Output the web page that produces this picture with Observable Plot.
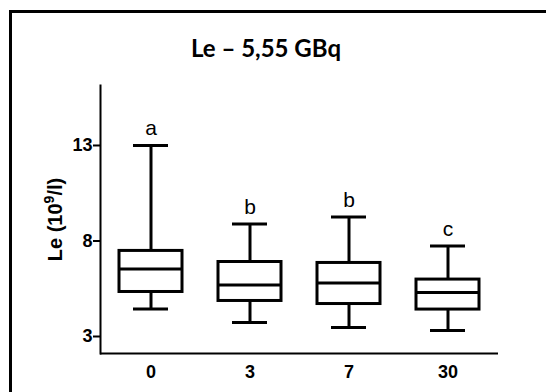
<!DOCTYPE html>
<html>
<head>
<meta charset="utf-8">
<script src="https://cdn.jsdelivr.net/npm/d3@7"></script>
<script src="https://cdn.jsdelivr.net/npm/@observablehq/plot@0.6"></script>
<style>
  html, body { margin: 0; padding: 0; background: #fff; width: 546px; height: 392px; overflow: hidden; position: relative; }
  #border { position: absolute; left: 9px; top: 10px; width: 800px; height: 800px; border-left: 3px solid #000; border-top: 3px solid #000; pointer-events: none; }
  #title { height: 70px; box-sizing: border-box; padding-top: 36px; line-height: 24px; width: 532px; text-align: center; font-family: Lato, "Open Sans", sans-serif; font-weight: bold; font-size: 24px; color: #000; }
  #chart svg { display: block; }
  #chart g[aria-label="y-axis tick label"], #chart g[aria-label="x-axis tick label"] { font-size: 18px !important; font-weight: bold !important; fill: #000 !important; }
</style>
</head>
<body>
<div id="border"></div>
<div id="title">Le – 5,55 GBq</div>
<div id="chart"></div>
<script>
const categories = ["0", "3", "7", "30"];
const lowerWhisker = [4.44, 3.73, 3.47, 3.31];
const q1 = [5.33, 4.86, 4.70, 4.41];
const median = [6.53, 5.70, 5.80, 5.30];
const q3 = [7.48, 6.90, 6.85, 5.98];
const upperWhisker = [13.0, 8.89, 9.26, 7.74];
const letters = ["a", "b", "b", "c"];
const yTicks = [3, 8, 13];
const yLabelParts = ["Le (10", "9", "/l)"];

const data = categories.map((c, i) => ({
  cat: c, lo: lowerWhisker[i], q1: q1[i], med: median[i], q3: q3[i], hi: upperWhisker[i], letter: letters[i]
}));

const font = "'Liberation Sans', Arial, sans-serif";
const chart = Plot.plot({
  width: 546,
  height: 322,
  marginLeft: 100,
  marginRight: 48,
  marginTop: 15,
  marginBottom: 39,
  style: { fontFamily: font, fontSize: "18px", fontWeight: "bold", color: "#000", background: "transparent" },
  x: { domain: categories, paddingInner: 0.36, paddingOuter: 0.18, label: null, tickSize: 0, tickPadding: 12 },
  y: { domain: [2.11, 16.14], ticks: yTicks, label: null, tickSize: 7, tickPadding: 1 },
  marks: [
    Plot.ruleX(data, { x: "cat", y1: "q3", y2: "hi", stroke: "#000", strokeWidth: 3 }),
    Plot.ruleX(data, { x: "cat", y1: "lo", y2: "q1", stroke: "#000", strokeWidth: 3 }),
    Plot.tickY(data, { x: "cat", y: "hi", stroke: "#000", strokeWidth: 3, insetLeft: 14, insetRight: 14 }),
    Plot.tickY(data, { x: "cat", y: "lo", stroke: "#000", strokeWidth: 3, insetLeft: 14, insetRight: 14 }),
    Plot.barY(data, { x: "cat", y1: "q1", y2: "q3", fill: "#fff", stroke: "#000", strokeWidth: 3 }),
    Plot.tickY(data, { x: "cat", y: "med", stroke: "#000", strokeWidth: 3 }),
    Plot.text(data, { x: "cat", y: "hi", text: "letter", dy: -17, fontSize: 21, fontWeight: "normal", fill: "#000" }),
    Plot.axisY({ ticks: yTicks, tickSize: 7, tickPadding: 1, strokeWidth: 2, label: null, fontSize: 18, fontWeight: "bold", fill: "#000" }),
    Plot.axisX({ tickSize: 0, tickPadding: 12, label: null, fontSize: 18, fontWeight: "bold", fill: "#000" }),
    Plot.ruleY([2.11], { stroke: "#000", strokeWidth: 2 }),
    Plot.frame({ anchor: "left", stroke: "#000", strokeWidth: 2 }),
    Plot.text([yLabelParts.join("")], { frameAnchor: "left", textAnchor: "middle", text: d => d, dx: -45, rotate: -90, fontSize: 20, fontWeight: "bold", fill: "#000" })
  ]
});
// render superscript in the y-axis label
const fullLabel = yLabelParts.join("");
d3.select(chart).selectAll("text").filter(function() { return this.textContent === fullLabel; }).each(function() {
  const t = d3.select(this);
  t.text(null);
  t.append("tspan").text(yLabelParts[0]);
  t.append("tspan").attr("dy", "-8").style("font-size", "14px").text(yLabelParts[1]);
  t.append("tspan").attr("dy", "8").text(yLabelParts[2]);
});
document.getElementById("chart").appendChild(chart);
</script>
</body>
</html>
